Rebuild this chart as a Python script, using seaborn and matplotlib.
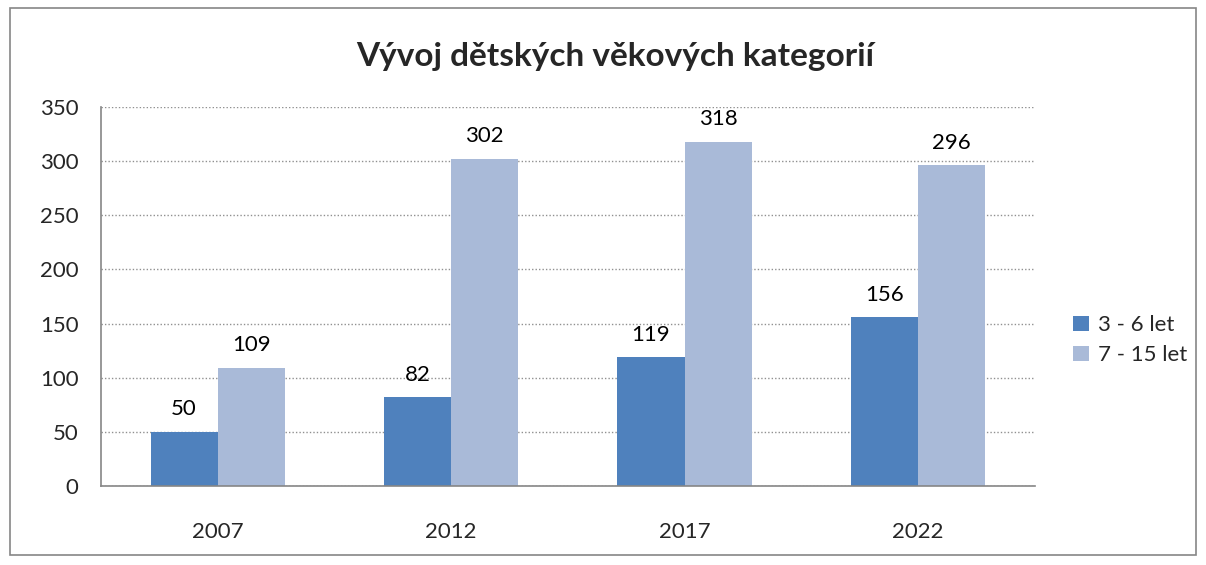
import pandas as pd
import seaborn as sns
import matplotlib.pyplot as plt
from matplotlib.patches import Rectangle

sns.set_style("white")
plt.rcParams['font.family'] = ['Lato', 'DejaVu Sans']

# Data
roky = ['2007', '2012', '2017', '2022']
deti_3_6 = [50, 82, 119, 156]
deti_7_15 = [109, 302, 318, 296]
serie = ['3 - 6 let', '7 - 15 let']
barvy = ['#4F81BD', '#A9BAD8']

df = pd.DataFrame({
    'Rok': roky * 2,
    'Pocet': deti_3_6 + deti_7_15,
    'Kategorie': [serie[0]] * len(roky) + [serie[1]] * len(roky),
})

fig = plt.figure(figsize=(12.06, 5.65), dpi=100)
ax = fig.add_axes([0.0837, 0.1398, 0.858 - 0.0837, 0.8106 - 0.1398])

sns.barplot(data=df, x='Rok', y='Pocet', hue='Kategorie', palette=barvy,
            width=0.575, gap=0, saturation=1, ax=ax, edgecolor='none')

for cont in ax.containers:
    ax.bar_label(cont, padding=9, fontsize=16, color='black')

ax.set_ylim(0, 350)
ax.set_xlim(-0.5, 3.5)
ax.set_yticks(range(0, 351, 50))
ax.tick_params(axis='y', labelsize=16, length=6, color='#868686', width=1.2, pad=10)
ax.tick_params(axis='x', which='major', labelsize=16, length=0, pad=26)
ax.set_xticks([-0.5, 0.5, 1.5, 2.5, 3.5], minor=True)
ax.tick_params(axis='x', which='minor', length=6, color='#868686', width=1.2)
ax.set_xlabel('')
ax.set_ylabel('')

ax.yaxis.grid(True, linestyle=(0, (1, 1.5)), color='#909090', linewidth=1)
ax.set_axisbelow(True)
for s in ['top', 'right']:
    ax.spines[s].set_visible(False)
for s in ['left', 'bottom']:
    ax.spines[s].set_color('#868686')
    ax.spines[s].set_linewidth(1.2)

fig.text(0.51, 0.9, 'Vývoj dětských věkových kategorií', ha='center', va='center',
         fontsize=24, fontweight='bold')

leg = ax.legend(loc='center left', bbox_to_anchor=(1.02, 0.385), frameon=False,
                fontsize=16, handlelength=0.7, handleheight=0.7, handletextpad=0.4,
                labelspacing=0.45)

fig.patches.append(Rectangle((0.008, 0.017), 0.984, 0.968, transform=fig.transFigure,
                             fill=False, edgecolor='#868686', linewidth=1.2))

fig.savefig('out.png', dpi=100)
